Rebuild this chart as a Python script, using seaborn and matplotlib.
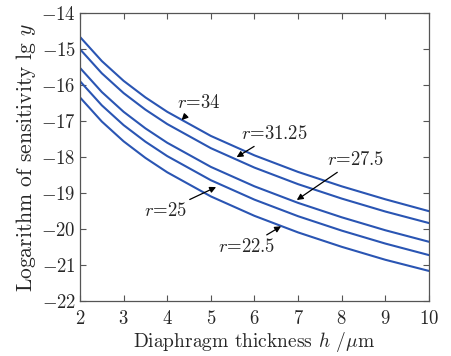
import matplotlib
matplotlib.use("Agg")
from matplotlib import pyplot as plt
import seaborn as sns
import pandas as pd

# thickness h (um) and lg y
h = [2, 2.5, 3, 3.5, 4, 5, 6, 7, 8, 9, 10]
r_labels = ["34", "31.25", "27.5", "25", "22.5"]
lg_r34 = [-14.66, -15.33, -15.88, -16.34, -16.74, -17.41, -17.95, -18.41, -18.81, -19.17, -19.50]
lg_r3125 = [-15.00, -15.67, -16.22, -16.68, -17.08, -17.75, -18.29, -18.75, -19.15, -19.51, -19.83]
lg_r275 = [-15.52, -16.19, -16.74, -17.20, -17.60, -18.27, -18.81, -19.27, -19.67, -20.03, -20.35]
lg_r25 = [-15.89, -16.56, -17.11, -17.57, -17.97, -18.64, -19.18, -19.64, -20.04, -20.40, -20.72]
lg_r225 = [-16.34, -17.01, -17.56, -18.02, -18.42, -19.09, -19.63, -20.09, -20.49, -20.85, -21.16]

series = [lg_r34, lg_r3125, lg_r275, lg_r25, lg_r225]
rows = []
for lab, ys in zip(r_labels, series):
    for x, y in zip(h, ys):
        rows.append({"h": x, "lgy": y, "r": lab})
df = pd.DataFrame(rows)

sns.set_style("ticks")
plt.rcParams["font.family"] = "serif"
plt.rcParams["font.serif"] = ["cmr10", "DejaVu Serif"]
plt.rcParams["mathtext.fontset"] = "cm"
plt.rcParams["axes.formatter.use_mathtext"] = True

fig = plt.figure(figsize=(4.52, 3.56), dpi=100)
ax = fig.add_axes([0.177, 0.154, 0.772, 0.809])
blue = "#2a55b3"
sns.lineplot(data=df, x="h", y="lgy", hue="r", palette=[blue] * 5,
             linewidth=1.5, legend=False, ax=ax)

ax.set_xlim(2, 10)
ax.set_ylim(-22, -14)
ax.set_xticks(range(2, 11))
ax.set_yticks(range(-22, -13))
ax.tick_params(direction="in", top=True, right=True, labelsize=13.5,
               length=4, color="#555555", pad=3)
ax.tick_params(axis="x", pad=6)
for s in ax.spines.values():
    s.set_color("#555555")
    s.set_linewidth(0.9)
ax.set_xlabel(r"Diaphragm thickness $h$ /$\mu$m", fontsize=14, labelpad=2)
ax.set_ylabel(r"Logarithm of sensitivity lg $y$", fontsize=15.5, labelpad=2)

arrow = dict(arrowstyle="-|>", color="black", lw=0.9, mutation_scale=9,
             shrinkA=0, shrinkB=0)
fs = 13.5
ax.annotate(r"$r$=34", xy=(4.33, -16.97), xytext=(4.71, -16.5),
            ha="center", va="center", fontsize=fs, arrowprops=arrow)
ax.annotate(r"$r$=31.25", xy=(5.59, -18.0), xytext=(6.45, -17.36),
            ha="center", va="center", fontsize=fs, arrowprops=arrow)
ax.annotate(r"$r$=27.5", xy=(6.97, -19.19), xytext=(8.31, -18.08),
            ha="center", va="center", fontsize=fs, arrowprops=arrow)
ax.annotate(r"$r$=25", xy=(5.12, -18.83), xytext=(3.95, -19.5),
            ha="center", va="center", fontsize=fs, arrowprops=arrow)
ax.annotate(r"$r$=22.5", xy=(6.61, -19.92), xytext=(5.81, -20.5),
            ha="center", va="center", fontsize=fs, arrowprops=arrow)

fig.savefig("out.png", dpi=100)
